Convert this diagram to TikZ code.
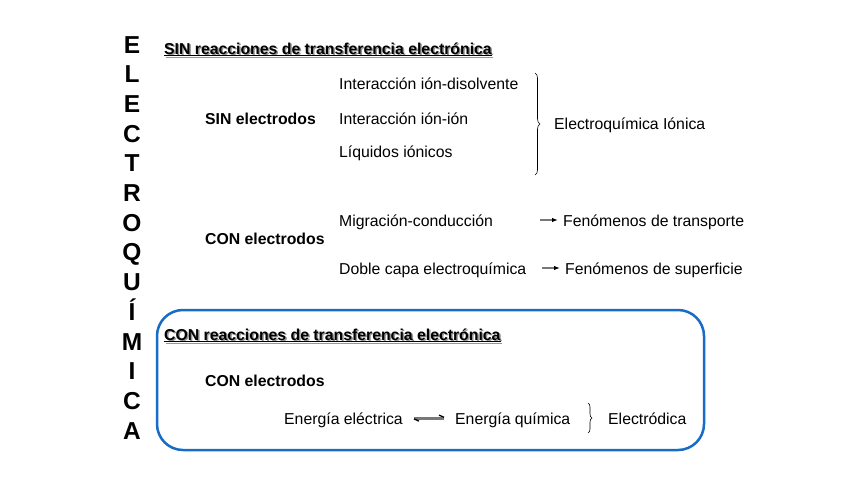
\documentclass[tikz,border=0pt]{standalone}
\usepackage{fontspec}
\setmainfont{Liberation Sans}
\usetikzlibrary{decorations.pathreplacing,arrows.meta}
\definecolor{boxblue}{RGB}{22,108,198}
\definecolor{shadowgray}{RGB}{150,150,150}
\definecolor{arrowgray}{RGB}{120,120,120}
\tikzset{
  txt/.style={anchor=base west, inner sep=0pt, font=\fontsize{15.8}{18}\selectfont},
  btxt/.style={txt, font=\fontsize{15.8}{18}\selectfont\bfseries},
  shadow/.style={btxt, text=shadowgray},
  vletter/.style={anchor=base, inner sep=0pt, font=\fontsize{24.5}{28}\selectfont\bfseries},
  brc/.style={decorate, decoration={brace, amplitude=5pt}, line width=0.6pt},
  smallarrow/.style={arrowgray, line width=1.2pt, -{Latex[length=6pt,width=4.5pt,black]}},
}
\begin{document}
\begin{tikzpicture}[x=1pt,y=-1pt]
\useasboundingbox (0,0) rectangle (848,477);
% vertical title
\foreach \l [count=\i from 0] in {E,L,E,C,T,R,O,Q,U,Í,M,I,C,A}{
  \node[vletter] (v\i) at (132,{53+\i*29.7}) {\l};
}
% blue box
\draw[boxblue, line width=2.5pt, rounded corners=26pt] (157,310) rectangle (704,450);
% first title
\node[shadow] (t1s) at (165.5,55.5) {\underline{SIN reacciones de transferencia electrónica}};
\node[btxt] (t1) at (164,54) {\underline{SIN reacciones de transferencia electrónica}};
\node[btxt] (sin) at (205,124) {SIN electrodos};
\node[txt] (i1) at (339,89) {Interacción ión-disolvente};
\node[txt] (i2) at (339,124) {Interacción ión-ión};
\node[txt] (i3) at (339,157) {Líquidos iónicos};
\coordinate (b1a) at (535,73);
\coordinate (b1b) at (535,175);
\draw[brc] (b1a) -- (b1b);
\node[txt] (ei) at (554,129) {Electroquímica Iónica};
\node[btxt] (con1) at (205,244) {CON electrodos};
\node[txt] (m1) at (339,226) {Migración-conducción};
\node[txt] (m2) at (339,274) {Doble capa electroquímica};
\node[txt] (f1) at (563,226) {Fenómenos de transporte};
\node[txt] (f2) at (565,274) {Fenómenos de superficie};
\coordinate (a1s) at (540,220);
\coordinate (a1e) at (558,220);
\coordinate (a2s) at (542,268);
\coordinate (a2e) at (560,268);
\draw[smallarrow] (a1s) -- (a1e);
\draw[smallarrow] (a2s) -- (a2e);
% second title
\node[shadow] (t2s) at (165.5,341.5) {\underline{CON reacciones de transferencia electrónica}};
\node[btxt] (t2) at (164,340) {\underline{CON reacciones de transferencia electrónica}};
\node[btxt] (con2) at (205,386) {CON electrodos};
\node[txt] (e1) at (284,424) {Energía eléctrica};
\node[txt] (e2) at (455,424) {Energía química};
\node[txt] (ed) at (608,424) {Electródica};
% equilibrium harpoons
\coordinate (h1) at (414,417.3);
\coordinate (h2) at (444,417.3);
\coordinate (h3) at (414,418.9);
\coordinate (h4) at (444,418.9);
\draw[arrowgray, line width=1.6pt] (h1) -- (h2);
\draw[black, line width=1.3pt] (h2) -- ++(-5,-2.2);
\draw[arrowgray, line width=1.6pt] (h4) -- (h3);
\draw[black, line width=1.3pt] (h3) -- ++(5,2.2);
\coordinate (b2a) at (588,403);
\coordinate (b2b) at (588,433);
\draw[brc, decoration={amplitude=4pt}] (b2a) -- (b2b);
\end{tikzpicture}
\end{document}
